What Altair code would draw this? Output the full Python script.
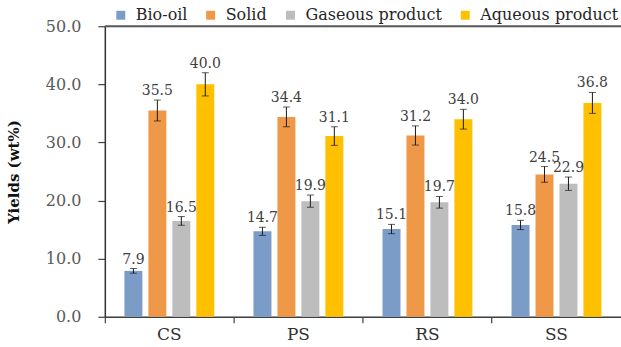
import altair as alt
import pandas as pd

# Feedstocks and product fractions
feedstocks = ["CS", "PS", "RS", "SS"]
products = ["Bio-oil", "Solid", "Gaseous product", "Aqueous product"]
colors = ["#7A9CC6", "#EE9848", "#BDBDBD", "#FFC000"]

# Mean yields (wt%) per product, in feedstock order
bio_oil = [7.9, 14.7, 15.1, 15.8]
solid = [35.5, 34.4, 31.2, 24.5]
gaseous = [16.5, 19.9, 19.7, 22.9]
aqueous = [40.0, 31.1, 34.0, 36.8]

# Standard deviations
bio_oil_sd = [0.4, 0.7, 0.8, 0.8]
solid_sd = [1.8, 1.7, 1.65, 1.35]
gaseous_sd = [0.75, 1.05, 1.0, 1.15]
aqueous_sd = [2.0, 1.6, 1.7, 1.8]

means = [bio_oil, solid, gaseous, aqueous]
sds = [bio_oil_sd, solid_sd, gaseous_sd, aqueous_sd]

rows = []
for p, m, s in zip(products, means, sds):
    for f, v, e in zip(feedstocks, m, s):
        rows.append({"feedstock": f, "product": p, "value": v,
                     "lo": v - e, "hi": v + e})
df = pd.DataFrame(rows)

FONT = "DejaVu Serif"

x = alt.X("feedstock:N", sort=feedstocks, title=None,
          scale=alt.Scale(paddingInner=0, paddingOuter=0),
          axis=alt.Axis(bandPosition=0, labelAngle=0, labelFont=FONT,
                        labelFontSize=17, labelColor="#333333",
                        tickSize=6, tickColor="#404040", tickWidth=1.2,
                        labelPadding=4, domainColor="#404040",
                        domainWidth=1.5, grid=False))
xo = alt.XOffset("product:N", sort=products,
                 scale=alt.Scale(paddingInner=0.25, paddingOuter=0.818))
y_scale = alt.Scale(domain=[0, 50], nice=False)

base = alt.Chart(df)

bars = base.mark_bar().encode(
    x=x,
    xOffset=xo,
    y=alt.Y("value:Q", scale=y_scale, title="Yields (wt%)",
            axis=alt.Axis(values=[0, 10, 20, 30, 40, 50], format=".1f",
                          labelFont=FONT, labelFontSize=16,
                          labelColor="#595959", labelPadding=17,
                          tickSize=7, tickColor="#404040", tickWidth=1.2,
                          domainColor="#333333", domainWidth=1.5,
                          grid=False, titleFont=FONT, titleFontSize=15,
                          titleFontWeight="bold", titleColor="#111111",
                          titlePadding=24)),
    color=alt.Color("product:N", sort=products,
                    scale=alt.Scale(domain=products, range=colors),
                    legend=alt.Legend(title=None, orient="none",
                                      direction="horizontal",
                                      legendX=8, legendY=-19,
                                      symbolType="square", symbolSize=80,
                                      symbolStrokeWidth=0,
                                      labelFont=FONT, labelFontSize=16,
                                      labelColor="#262626", labelOffset=7,
                                      columnPadding=15, padding=0)),
)

whiskers = base.mark_rule(color="#1a1a1a", strokeWidth=1).encode(
    x=x, xOffset=xo,
    y=alt.Y("lo:Q", scale=y_scale), y2="hi:Q",
)
caps_lo = base.mark_tick(color="#1a1a1a", thickness=1, size=7).encode(
    x=x, xOffset=xo, y=alt.Y("lo:Q", scale=y_scale),
)
caps_hi = base.mark_tick(color="#1a1a1a", thickness=1, size=7).encode(
    x=x, xOffset=xo, y=alt.Y("hi:Q", scale=y_scale),
)

labels = base.mark_text(font=FONT, fontSize=14, color="#404040",
                        baseline="bottom", dy=-2).encode(
    x=x, xOffset=xo,
    y=alt.Y("hi:Q", scale=y_scale),
    text=alt.Text("value:Q", format=".1f"),
)

# frame line along the top of the plot
top_line = alt.Chart(pd.DataFrame({"top": [50]})).mark_rule(
    color="#595959", strokeWidth=2).encode(y=alt.Y("top:Q", scale=y_scale))

chart = alt.layer(bars, whiskers, caps_lo, caps_hi, labels, top_line).properties(
    width=517, height=291,
    autosize=alt.AutoSizeParams(type="none"),
    padding={"left": 105, "top": 26, "right": 0, "bottom": 30},
).configure_view(strokeWidth=0).configure(background="white")

chart.save("out.html", embed_options={"renderer": "svg", "actions": False})
